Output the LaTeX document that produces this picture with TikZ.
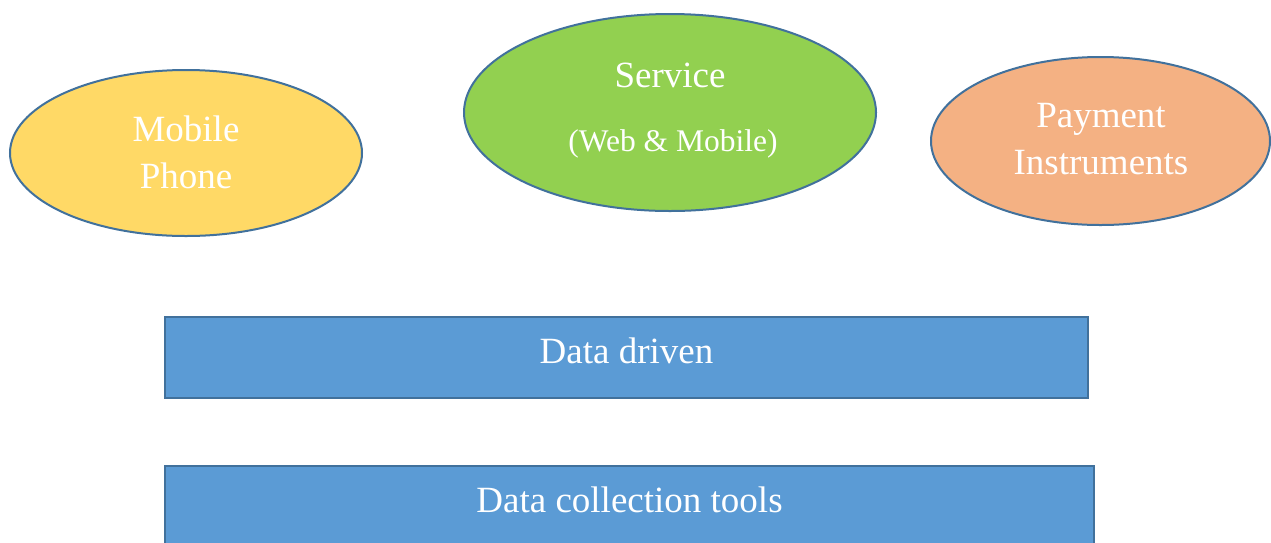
\documentclass[tikz,border=0pt]{standalone}
\usepackage{fontspec}
\setmainfont{Liberation Serif}
\usetikzlibrary{shapes.geometric}
\definecolor{bordc}{HTML}{41719C}
\definecolor{yellowc}{HTML}{FFD966}
\definecolor{greenc}{HTML}{92D050}
\definecolor{orangec}{HTML}{F4B183}
\definecolor{bluec}{HTML}{5B9BD5}
\tikzset{
  ell/.style={ellipse, draw=bordc, line width=2pt, inner sep=0pt},
  bar/.style={draw=bordc, line width=2.5pt, fill=bluec},
  lbl/.style={text=white, font=\fontsize{37}{47}\selectfont, align=center, inner sep=0pt},
  lblsmall/.style={text=white, font=\fontsize{31.5}{40}\selectfont, inner sep=0pt}
}
\begin{document}
\begin{tikzpicture}[x=1pt,y=-1pt]
\clip (0,0) rectangle (1271,542);
\fill[white] (0,0) rectangle (1271,542);
% ellipses
\node[ell, fill=yellowc, minimum width=352pt, minimum height=166pt] (phone) at (186,153) {};
\node[ell, fill=greenc, minimum width=412pt, minimum height=197pt] (service) at (670,112.5) {};
\node[ell, fill=orangec, minimum width=339pt, minimum height=168pt] (pay) at (1100.5,141) {};
\node[lbl] (phonet) at (186,152) {Mobile\\Phone};
\node[lbl] (servicet) at (670,75) {Service};
\node[lblsmall] (servicet2) at (673,144) {(Web \& Mobile)};
\node[lbl] (payt) at (1101,139) {Payment\\Instruments};
% bars
\draw[bar] (165,317) rectangle (1088,398);
\node[lbl] (dd) at (626.5,351) {Data driven};
\draw[bar] (165,466) rectangle (1094,580);
\node[lbl] (dct) at (629.5,500) {Data collection tools};
\end{tikzpicture}
\end{document}
